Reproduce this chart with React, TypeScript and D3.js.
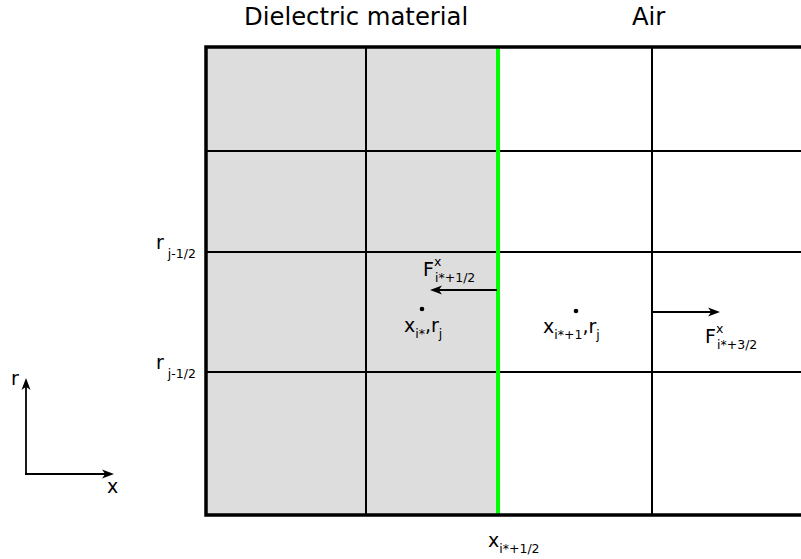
import React from "react";
import * as d3 from "d3";

// Grid geometry in domain units
const gridX = [0, 160, 292, 446, 595];
const gridY = [0, 104, 205, 325, 468];
const dielectricCols = [0, 1]; // columns filled as dielectric
const interfaceX = 292;
const cellPoints = [
  { x: 216, y: 262 },
  { x: 370, y: 264 },
];
const fluxArrows = [
  { x0: 291, x1: 224, y: 243 },
  { x0: 446, x1: 514, y: 265 },
];
const regionLabels = ["Dielectric material", "Air"];

const W = 801;
const H = 559;
const FONT = "DejaVu Sans, sans-serif";

function Arrow({ x1, y1, x2, y2 }: { x1: number; y1: number; x2: number; y2: number }) {
  const ang = Math.atan2(y2 - y1, x2 - x1);
  const L = 12, hw = 4.5, notch = 3.2;
  const p = (a: number, b: number) => {
    const c = Math.cos(ang), s = Math.sin(ang);
    return [x2 + a * c - b * s, y2 + a * s + b * c];
  };
  const tip = p(0, 0), l = p(-L, -hw), n = p(-L + notch, 0), r = p(-L, hw);
  const lineEnd = p(-L + notch, 0);
  return (
    <g>
      <line x1={x1} y1={y1} x2={lineEnd[0]} y2={lineEnd[1]} stroke="#000" strokeWidth={1.8} />
      <path d={`M${tip}L${l}L${n}L${r}Z`} fill="#000" />
    </g>
  );
}

export default function App() {
  const x = d3.scaleLinear().domain([0, 595]).range([206, 801]);
  const y = d3.scaleLinear().domain([0, 468]).range([47, 515]);
  const main = 19;
  const sub = 12.5;
  return (
    <svg width={W} height={H} style={{ display: "block", position: "absolute", left: 0, top: 0 }} fontFamily={FONT}>
      <rect width={W} height={H} fill="#fff" />
      {dielectricCols.map((c) => (
        <rect key={c} x={x(gridX[c])} y={y(0)} width={x(gridX[c + 1]) - x(gridX[c])} height={y(468) - y(0)} fill="#dddddd" />
      ))}
      {gridY.slice(1, -1).map((v) => (
        <line key={"h" + v} x1={x(0)} x2={W} y1={y(v)} y2={y(v)} stroke="#000" strokeWidth={2} />
      ))}
      {gridX.slice(1, -1).filter((v) => v !== interfaceX).map((v) => (
        <line key={"v" + v} x1={x(v)} x2={x(v)} y1={y(0)} y2={y(468)} stroke="#000" strokeWidth={2} />
      ))}
      <line x1={x(interfaceX)} x2={x(interfaceX)} y1={y(0)} y2={y(468)} stroke="#00ff00" strokeWidth={4} />
      <path d={`M${W},${y(0)}H${x(0)}V${y(468)}H${W}`} fill="none" stroke="#000" strokeWidth={3.5} />

      {cellPoints.map((p, i) => (
        <circle key={i} cx={x(p.x)} cy={y(p.y)} r={2.3} fill="#000" />
      ))}
      {fluxArrows.map((a, i) => (
        <Arrow key={i} x1={x(a.x0)} y1={y(a.y)} x2={x(a.x1)} y2={y(a.y)} />
      ))}

      <text x={244} y={25} fontSize={24.3}>{regionLabels[0]}</text>
      <text x={632} y={25} fontSize={24.3}>{regionLabels[1]}</text>

      <text x={156} y={249} fontSize={main}>r<tspan dx={4} dy={9} fontSize={sub}>j-1/2</tspan></text>
      <text x={156} y={369} fontSize={main}>r<tspan dx={4} dy={9} fontSize={sub}>j-1/2</tspan></text>

      <text x={423} y={276} fontSize={main}>F</text>
      <text x={434} y={266} fontSize={sub}>x</text>
      <text x={435} y={282} fontSize={sub}>i*+1/2</text>

      <text x={404} y={332} fontSize={main}>x<tspan dy={6} fontSize={sub}>i*</tspan><tspan dy={-6}>,r</tspan><tspan dy={6} fontSize={sub}>j</tspan></text>
      <text x={543} y={333} fontSize={main}>x<tspan dy={6} fontSize={sub}>i*+1</tspan><tspan dy={-6}>,r</tspan><tspan dy={6} fontSize={sub}>j</tspan></text>

      <text x={705} y={343} fontSize={main}>F</text>
      <text x={716} y={333} fontSize={sub}>x</text>
      <text x={717} y={349} fontSize={sub}>i*+3/2</text>

      <text x={488} y={547} fontSize={main}>x<tspan dy={6} fontSize={sub}>i*+1/2</tspan></text>

      <Arrow x1={26} y1={475} x2={26} y2={378} />
      <Arrow x1={25} y1={474} x2={114} y2={474} />
      <text x={11} y={385} fontSize={main}>r</text>
      <text x={107} y={493} fontSize={main}>x</text>
    </svg>
  );
}
